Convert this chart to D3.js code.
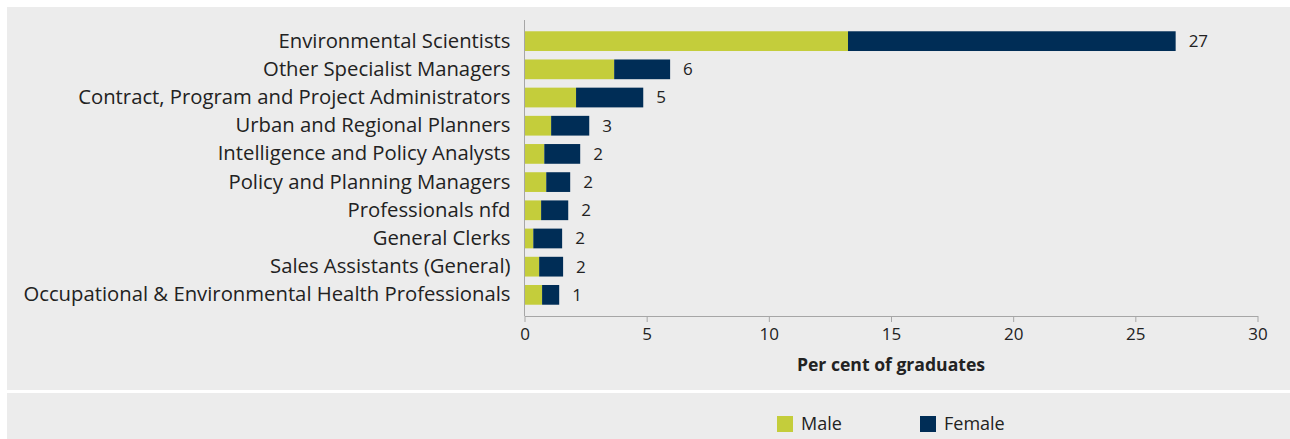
<!DOCTYPE html>
<html>
<head>
<meta charset="utf-8">
<script src="https://cdn.jsdelivr.net/npm/d3@7"></script>
<style>
  body { margin: 0; background: #fff; }
  text { font-family: "Open Sans", "Noto Sans", sans-serif; fill: #222; }
  .axis path, .axis line { stroke: #a6a6a6; }
</style>
</head>
<body>
<div id="chart"></div>
<script>
var categories = [
    "Environmental Scientists",
    "Other Specialist Managers",
    "Contract, Program and Project Administrators",
    "Urban and Regional Planners",
    "Intelligence and Policy Analysts",
    "Policy and Planning Managers",
    "Professionals nfd",
    "General Clerks",
    "Sales Assistants (General)",
    "Occupational & Environmental Health Professionals"
];
var male   = [13.24, 3.67, 2.11, 1.09, 0.81, 0.89, 0.68, 0.36, 0.60, 0.72];
var female = [13.41, 2.29, 2.75, 1.56, 1.47, 0.98, 1.11, 1.18, 0.98, 0.70];
var totalLabels = ["27", "6", "5", "3", "2", "2", "2", "2", "2", "1"];
var xTicks = [0, 5, 10, 15, 20, 25, 30];
var seriesNames = ["Male", "Female"];
var colors = ["#c4cd3b", "#002d56"];

var W = 1290, H = 439;
var font = "'Open Sans', 'Noto Sans', sans-serif";
var svg = d3.select("#chart").append("svg")
    .attr("width", W)
    .attr("height", H);

// panels
svg.append("rect").attr("x", 7).attr("y", 7).attr("width", W - 7).attr("height", 383).attr("fill", "#ececec");
svg.append("rect").attr("x", 7).attr("y", 393).attr("width", W - 7).attr("height", H - 393).attr("fill", "#ececec");

var x = d3.scaleLinear().domain([0, 30]).range([524.5, 1257.5]);
var y = d3.scaleBand().domain(categories).range([20, 316]).paddingInner(0.3).paddingOuter(0.4);

var rows = categories.map(function (c, i) {
    return { cat: c, male: male[i], female: female[i], label: totalLabels[i] };
});
var stack = d3.stack().keys(["male", "female"])(rows);

var g = svg.append("g");

g.selectAll("g.series").data(stack).enter()
    .append("g")
    .attr("class", "series")
    .attr("fill", function (d, i) { return colors[i]; })
    .selectAll("rect").data(function (d) { return d; }).enter()
    .append("rect")
    .attr("x", function (d) { return x(d[0]); })
    .attr("width", function (d) { return x(d[1]) - x(d[0]); })
    .attr("y", function (d) { return y(d.data.cat); })
    .attr("height", y.bandwidth());

// total labels
g.selectAll("text.total").data(rows).enter()
    .append("text")
    .attr("class", "total")
    .attr("x", function (d) { return x(d.male + d.female) + 13; })
    .attr("y", function (d) { return y(d.cat) + y.bandwidth() / 2; })
    .attr("dy", "0.35em")
    .style("font-size", "17px")
    .text(function (d) { return d.label; });

// x axis
var xAxis = d3.axisBottom(x).tickValues(xTicks).tickSize(6).tickPadding(6).tickSizeOuter(0);
var gx = svg.append("g").attr("class", "axis x")
    .attr("transform", "translate(0,316)")
    .call(xAxis);
gx.selectAll("text").style("font-size", "17px").style("font-family", font).attr("fill", "#222");

// y axis
var yAxis = d3.axisLeft(y).tickSize(0).tickPadding(14).tickSizeOuter(0);
var gy = svg.append("g").attr("class", "axis y")
    .attr("transform", "translate(524.5,0)")
    .call(yAxis);
gy.select("path.domain").attr("d", "M0,20V316");
gy.selectAll("text").style("font-size", "20.3px").style("font-family", font).attr("fill", "#222");

svg.append("text")
    .attr("x", (x.range()[0] + x.range()[1]) / 2)
    .attr("y", 371)
    .attr("text-anchor", "middle")
    .style("font-size", "17.6px")
    .style("font-weight", "bold")
    .text("Per cent of graduates");

// legend
var legendX = [777, 920];
var legend = svg.selectAll("g.legend").data(seriesNames).enter()
    .append("g")
    .attr("class", "legend")
    .attr("transform", function (d, i) { return "translate(" + legendX[i] + ",416)"; });
legend.append("rect").attr("width", 16).attr("height", 16).attr("fill", function (d, i) { return colors[i]; });
legend.append("text").attr("x", 24).attr("y", 8).attr("dy", "0.35em")
    .style("font-size", "18px")
    .text(function (d) { return d; });
</script>
</body>
</html>
